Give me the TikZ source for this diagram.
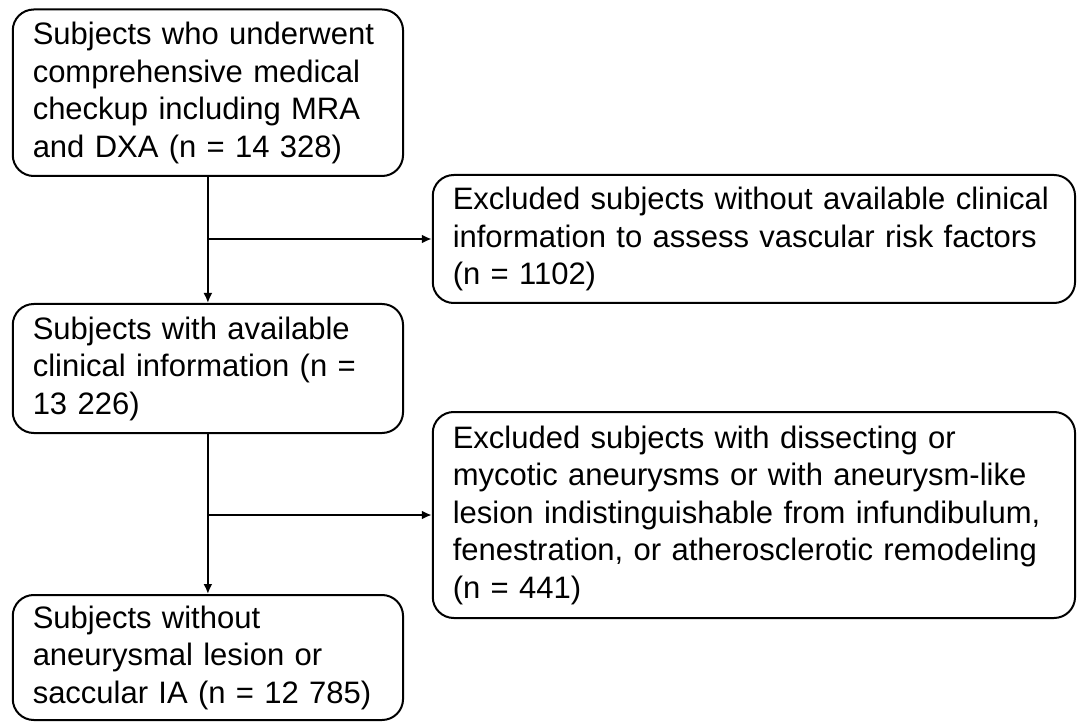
\documentclass[tikz,border=0pt]{standalone}
\usepackage{fontspec}
\setmainfont{Liberation Sans}
\usetikzlibrary{arrows.meta}
\begin{document}
\begin{tikzpicture}[x=1pt,y=-1pt,
  flowbox/.style={draw=black, line width=2pt, rounded corners=21pt, align=left,
    inner xsep=20pt, inner ysep=0pt, font=\fontsize{31}{37.5}\selectfont},
  flowarrow/.style={line width=2pt, -{Latex[length=10pt,width=9pt]}}]
\useasboundingbox (0,0) rectangle (1077,722);
\node[flowbox, minimum width=390.3pt, minimum height=166.5pt, text width=350.3pt] (b1) at (207.9,92.75)
  {Subjects who underwent\\comprehensive medical\\checkup including MRA\\and DXA (n = 14 328)};
\node[flowbox, minimum width=642.3pt, minimum height=128pt, text width=602.3pt] (b2) at (753.9,239)
  {Excluded subjects without available clinical\\information to assess vascular risk factors\\(n = 1102)};
\node[flowbox, minimum width=390.3pt, minimum height=129pt, text width=350.3pt] (b3) at (207.9,368.5)
  {Subjects with available\\clinical information (n =\\13 226)};
\node[flowbox, minimum width=642.3pt, minimum height=206pt, text width=602.3pt] (b4) at (753.9,515)
  {Excluded subjects with dissecting or\\mycotic aneurysms or with aneurysm-like\\lesion indistinguishable from infundibulum,\\fenestration, or atherosclerotic remodeling\\(n = 441)};
\node[flowbox, minimum width=390.3pt, minimum height=125pt, text width=350.3pt] (b5) at (207.9,657.5)
  {Subjects without\\aneurysmal lesion or\\saccular IA (n = 12 785)};
\coordinate (j1) at (b1.south |- b2.west);
\coordinate (j2) at (b3.south |- b4.west);
\draw[flowarrow] (b1.south) -- (b3.north);
\draw[flowarrow] (j1) -- (b2.west);
\draw[flowarrow] (b3.south) -- (b5.north);
\draw[flowarrow] (j2) -- (b4.west);
\end{tikzpicture}
\end{document}
